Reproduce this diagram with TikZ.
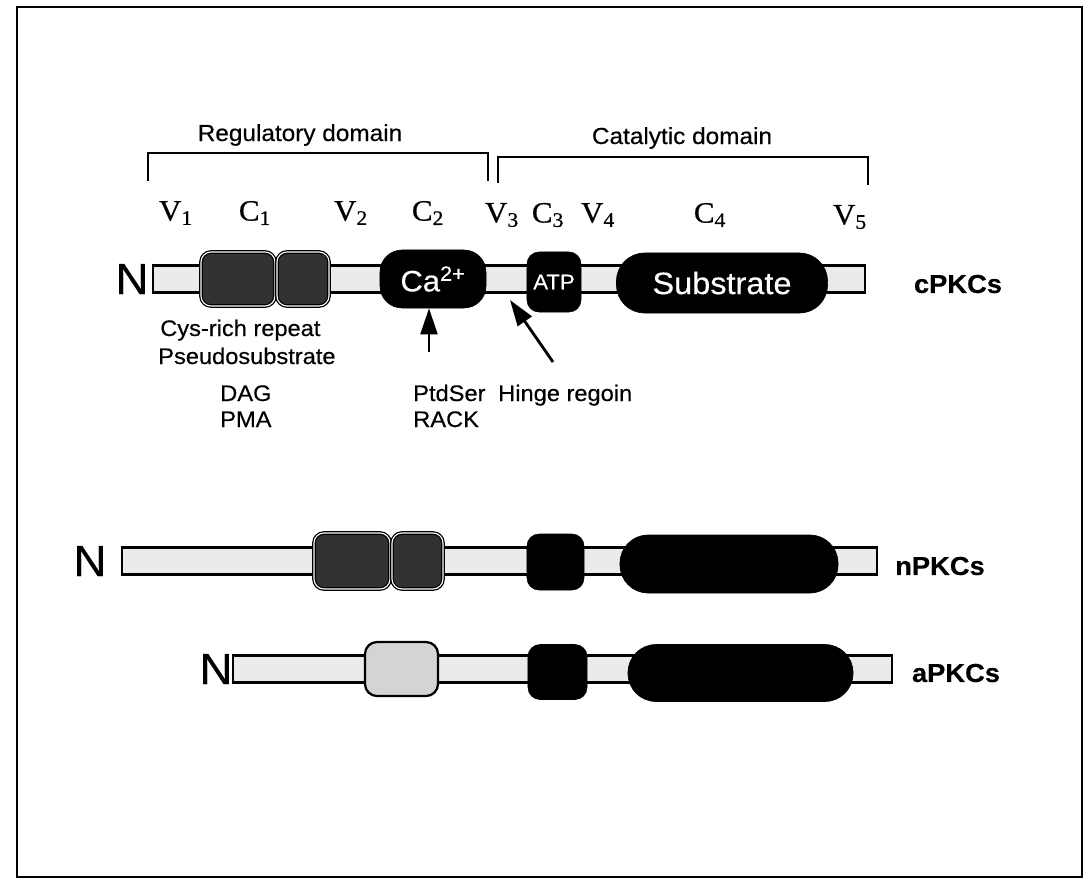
\documentclass[tikz,border=0pt]{standalone}
\usepackage{fontspec}
\setmainfont[FakeStretch=1.05, FakeBold=0.4]{Liberation Sans}
\newfontfamily\vcfont[FakeStretch=1.05, FakeBold=0.6]{Liberation Serif}
\usetikzlibrary{arrows.meta, positioning}
\definecolor{BarGrey}  {RGB}{235, 235, 235}
\definecolor{RichGrey} {RGB}{ 50,  50,  50}
\definecolor{PaleGrey} {RGB}{212, 212, 212}
\tikzset{
  % light linker bar (variable regions)
  barnode/.style={
    rectangle, fill=BarGrey, draw=black, line width=1.6pt,
    minimum height=0.68cm, inner sep=0pt
  },
  % Cys-rich repeat box
  cysnode/.style={
    rectangle, rounded corners=0.25cm,
    fill=RichGrey, draw=black, line width=0.9pt,
    double=white, double distance=0.8pt,
    minimum height=1.35cm, inner sep=0pt
  },
  % single pale repeat box (aPKC)
  palenode/.style={
    rectangle, rounded corners=0.3cm,
    fill=PaleGrey, draw=black, line width=1.6pt,
    minimum height=1.35cm, inner sep=0pt
  },
  % black binding / catalytic domains
  blacknode/.style={
    rectangle, rounded corners=0.3cm,
    fill=black, draw=black, text=white,
    minimum height=1.45cm, inner sep=0pt
  },
  subnode/.style={
    blacknode, rounded corners=0.7cm,
    font=\fontsize{22}{26}\selectfont
  },
  % V / C region labels
  vclabel/.style={
    font=\vcfont\fontsize{21}{24}\selectfont, inner sep=0pt
  },
  % plain annotation text
  txtlabel/.style={
    font=\fontsize{16}{19}\selectfont, inner sep=0pt, anchor=base west
  },
  rowlabel/.style={
    font=\bfseries\fontsize{18.5}{21}\selectfont, inner sep=0pt
  },
  nlabel/.style={
    font=\fontsize{31}{31}\selectfont, inner sep=0pt
  },
  bracket/.style={
    draw=black, line width=1.3pt
  },
  ptr/.style={
    -{Triangle[length=0.65cm, width=0.42cm]}, line width=2pt
  }
}

\begin{document}
\begin{tikzpicture}[x=0.025cm, y=-0.025cm]

  \useasboundingbox (0,0) rectangle (1088,883);
  \draw[line width=1.3pt] (17,7) rectangle (1082,877);

  % ── Domain brackets ──────────────────────────────────────────────────────
  \draw[bracket] (148,181) |- (488,153) -- (488,181);
  \draw[bracket] (498,183) |- (868,157) -- (868,185);
  \node[font=\fontsize{16.5}{19}\selectfont] (regdom) at (300,135) {Regulatory domain};
  \node[font=\fontsize{16.5}{19}\selectfont] (catdom) at (682,138) {Catalytic domain};

  % ── V / C region labels ─────────────────────────────────────────────────
  \node[vclabel] (v1) at (176,213) {V\textsubscript{1}};
  \node[vclabel] (c1) at (255,213) {C\textsubscript{1}};
  \node[vclabel] (v2) at (351,213) {V\textsubscript{2}};
  \node[vclabel] (c2) at (428,213) {C\textsubscript{2}};
  \node[vclabel] (v3) at (502,215) {V\textsubscript{3}};
  \node[vclabel] (c3) at (548,215) {C\textsubscript{3}};
  \node[vclabel] (v4) at (598,215) {V\textsubscript{4}};
  \node[vclabel] (c4) at (710,215) {C\textsubscript{4}};
  \node[vclabel] (v5) at (850,217) {V\textsubscript{5}};

  % ── cPKCs ────────────────────────────────────────────────────────────────
  \node[nlabel] (n1) at (132,279) {N};
  \node[barnode, minimum width=17.8cm] (bar1) at (509,279) {};
  \node[cysnode, minimum width=1.85cm] (cys1a) at (238,279) {};
  \node[cysnode, minimum width=1.3cm] (cys1b) at (303,279) {};
  \node[blacknode, minimum width=2.65cm, rounded corners=0.55cm,
        font=\fontsize{21}{24}\selectfont] (ca) at (433,279) {Ca\textsuperscript{2+}};
  \node[blacknode, minimum width=1.35cm, minimum height=1.5cm,
        font=\fontsize{15}{17}\selectfont] (atp) at (554,282) {ATP};
  \node[subnode, minimum width=5.275cm, minimum height=1.5cm] (sub1) at (722,283) {Substrate};
  \node[rowlabel] (cpkc) at (958,284) {cPKCs};

  % ── cPKC annotations ─────────────────────────────────────────────────────
  \node[txtlabel] (cysrich) at (160,336) {Cys-rich repeat};
  \node[txtlabel] (pseudo)  at (158,364) {Pseudosubstrate};
  \node[txtlabel] (dag)     at (220,401) {DAG};
  \node[txtlabel] (pma)     at (220,427) {PMA};
  \node[txtlabel] (ptdser)  at (413,401) {PtdSer};
  \node[txtlabel] (rack)    at (413,427) {RACK};
  \node[txtlabel] (hinge)   at (498,401) {Hinge regoin};

  \coordinate (ptdtail)   at (429,352);
  \coordinate (hingetail) at (553,362);
  \coordinate (hingetip)  at (510,300);
  \draw[ptr] (ptdtail) -- (ptdtail |- ca.south);
  \draw[ptr] (hingetail) -- (hingetip);

  % ── nPKCs ────────────────────────────────────────────────────────────────
  \node[nlabel] (n2) at (90,561) {N};
  \node[barnode, minimum width=18.875cm] (bar2) at (499.5,561) {};
  \node[cysnode, minimum width=1.9cm, minimum height=1.4cm] (cys2a) at (352,561) {};
  \node[cysnode, minimum width=1.275cm, minimum height=1.4cm] (cys2b) at (417.5,561) {};
  \node[blacknode, minimum width=1.425cm, minimum height=1.4cm] (c3n) at (555.5,562) {};
  \node[subnode, minimum width=5.45cm] (sub2) at (729,564) {};
  \node[rowlabel] (npkc) at (940,566) {nPKCs};

  % ── aPKCs ────────────────────────────────────────────────────────────────
  \node[nlabel] (n3) at (216,669) {N};
  \node[barnode, minimum width=16.475cm] (bar3) at (562.5,669) {};
  \node[palenode, minimum width=1.825cm] (pale3) at (401.5,669) {};
  \node[blacknode, minimum width=1.475cm, minimum height=1.375cm] (c3a) at (557.5,672) {};
  \node[subnode, minimum width=5.625cm, minimum height=1.425cm] (sub3) at (740.5,673) {};
  \node[rowlabel] (apkc) at (956,673) {aPKCs};

\end{tikzpicture}
\end{document}
